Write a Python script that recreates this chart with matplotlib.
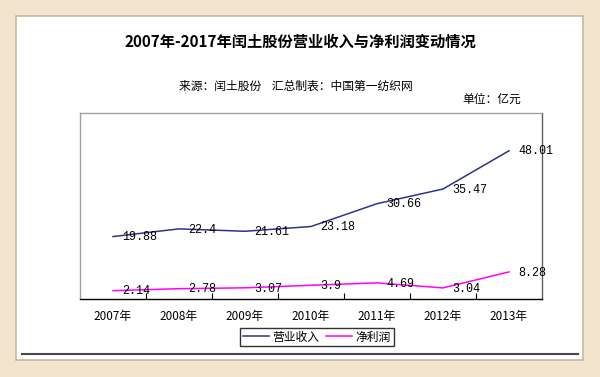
import matplotlib
matplotlib.use('Agg')
import matplotlib.pyplot as plt
from matplotlib.patches import Rectangle
from matplotlib.lines import Line2D

plt.rcParams['font.family'] = ['Noto Sans CJK SC', 'DejaVu Sans']

# data
years = ['2007年', '2008年', '2009年', '2010年', '2011年', '2012年', '2013年']
revenue = [19.88, 22.4, 21.61, 23.18, 30.66, 35.47, 48.01]
profit = [2.14, 2.78, 3.07, 3.9, 4.69, 3.04, 8.28]
revenue_labels = ['19.88', '22.4', '21.61', '23.18', '30.66', '35.47', '48.01']
profit_labels = ['2.14', '2.78', '3.07', '3.9', '4.69', '3.04', '8.28']

W, H = 600, 377
fig = plt.figure(figsize=(6, 3.77), dpi=100)
fig.patch.set_facecolor('#f3e4cd')

# white panel inside the beige frame
fig.patches.append(Rectangle((16 / W, 1 - 360 / H), (583 - 16) / W, (360 - 16) / H,
                             transform=fig.transFigure, facecolor='white',
                             edgecolor='#c4b8a2', lw=1.2, zorder=-5))
fig.lines.append(Line2D([22 / W, 578 / W], [1 - 354 / H, 1 - 354 / H],
                        transform=fig.transFigure, color='#454545', lw=1.5, zorder=-4))

ax = fig.add_axes([80 / W, 1 - 299 / H, (542 - 80) / W, (299 - 113) / H])
ax.set_facecolor('white')

x = list(range(len(years)))
l1, = ax.plot(x, revenue, color='#2e318f', lw=1.1, label='营业收入')
l2, = ax.plot(x, profit, color='#ff00ff', lw=1.1, label='净利润')

lab_font = dict(family='Liberation Mono', size=8.5, color='black')
for xi, v, t in zip(x, revenue, revenue_labels):
    ax.annotate(t, (xi, v), xytext=(6.5, -0.5), textcoords='offset points',
                ha='left', va='center', **lab_font)
for xi, v, t in zip(x, profit, profit_labels):
    ax.annotate(t, (xi, v), xytext=(6.5, -0.5), textcoords='offset points',
                ha='left', va='center', **lab_font)

ax.set_xlim(-0.5, 6.5)
ax.set_ylim(-0.6, 60.4)
ax.set_yticks([])
ax.set_xticks(x)
ax.set_xticklabels(years, fontsize=8.5)
ax.set_xticks([i + 0.5 for i in range(6)], minor=True)
ax.tick_params(axis='x', which='major', length=0, pad=8)
ax.tick_params(axis='x', which='minor', direction='in', length=4, width=0.8)

ax.spines['left'].set_color('#a0a0a0')
ax.spines['top'].set_color('#a0a0a0')
ax.spines['right'].set_color('#606060')
ax.spines['bottom'].set_color('black')
for s in ax.spines.values():
    s.set_linewidth(1)

fig.text(0.5, 1 - 42 / H, '2007年-2017年闰土股份营业收入与净利润变动情况',
         ha='center', va='center', fontsize=11, fontweight='bold')
fig.text(296 / W, 1 - 86 / H, '来源：闰土股份    汇总制表：中国第一纺织网',
         ha='center', va='center', fontsize=8.5)
fig.text(462 / W, 1 - 99 / H, '单位：亿元', ha='left', va='center', fontsize=8.5)

leg = fig.legend(handles=[l1, l2], loc='center', bbox_to_anchor=(317 / W, 1 - 337 / H),
                 ncol=2, fontsize=8.5, frameon=True, fancybox=False,
                 edgecolor='black', handlelength=2.2, handletextpad=0.3,
                 columnspacing=0.6, borderpad=0.25, borderaxespad=0)
leg.get_frame().set_linewidth(1)

fig.savefig('out.png', dpi=100, facecolor=fig.get_facecolor())
